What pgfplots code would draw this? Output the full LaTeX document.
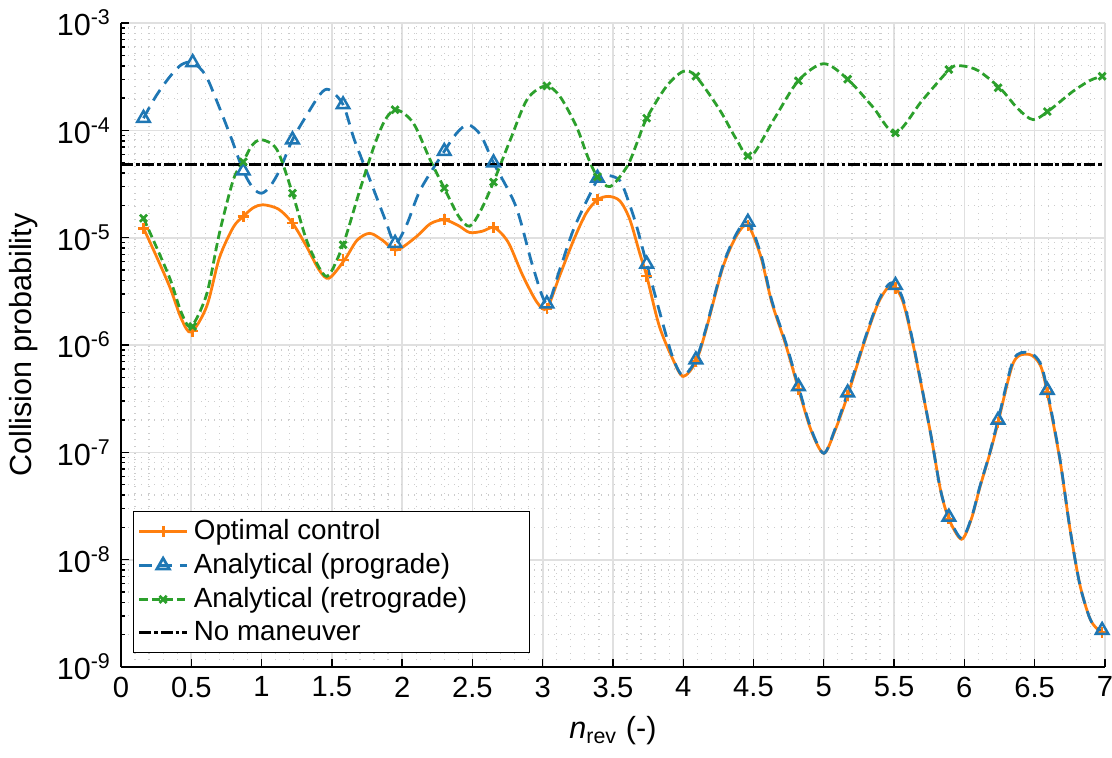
\documentclass[border=0pt]{standalone}
\usepackage{fontspec}
\setmainfont{Liberation Sans}
\usepackage{pgfplots}
\usepackage{pgfplotstable}
\pgfplotsset{compat=1.18}

\definecolor{cOpt}{HTML}{FF7F0E}
\definecolor{cPro}{HTML}{1F77B4}
\definecolor{cRet}{HTML}{2CA02C}

% Optimal control solution (full curve)
\pgfplotstableread{
n p
0.16 1.23e-5
0.25 6.8e-6
0.35 3.4e-6
0.43 1.75e-6
0.50 1.32e-6
0.61 2.3e-6
0.70 6.5e-6
0.80 1.26e-5
0.87 1.58e-5
0.94 1.9e-5
1.01 2.03e-5
1.12 1.85e-5
1.22 1.37e-5
1.32 8.3e-6
1.41 5.0e-6
1.48 4.2e-6
1.59 6.2e-6
1.68 9.5e-6
1.77 1.1e-5
1.86 9.5e-6
1.96 7.7e-6
2.10 1.02e-5
2.20 1.35e-5
2.30 1.47e-5
2.40 1.3e-5
2.48 1.12e-5
2.57 1.15e-5
2.65 1.25e-5
2.72 1.05e-5
2.77 8.3e-6
2.86 4.4e-6
2.96 2.5e-6
3.03 2.2e-6
3.12 4.4e-6
3.22 9.5e-6
3.31 1.7e-5
3.39 2.26e-5
3.47 2.43e-5
3.55 2.2e-5
3.62 1.48e-5
3.69 7.2e-6
3.74 4.4e-6
3.83 1.5e-6
3.93 7.2e-7
4.00 5.1e-7
4.09 7.0e-7
4.16 1.35e-6
4.28 5.2e-6
4.38 1.05e-5
4.46 1.3e-5
4.55 6.8e-6
4.63 2.5e-6
4.73 1.0e-6
4.82 3.9e-7
4.91 1.6e-7
5.00 9.8e-8
5.08 1.6e-7
5.17 3.4e-7
5.29 1.08e-6
5.39 2.5e-6
5.48 3.6e-6
5.56 2.6e-6
5.64 9.5e-7
5.76 1.5e-7
5.83 4.5e-8
5.89 2.4e-8
5.98 1.55e-8
6.05 2.4e-8
6.11 4.7e-8
6.18 9.6e-8
6.24 1.9e-7
6.35 6.9e-7
6.46 8.2e-7
6.54 6.5e-7
6.59 3.6e-7
6.68 8.5e-8
6.75 2.0e-8
6.82 6.0e-9
6.89 2.9e-9
6.94 2.3e-9
6.98 2.1e-9
}\optcurve

% Analytical, prograde manoeuvre (full curve)
\pgfplotstableread{
n p
0.16 1.30e-4
0.25 2.1e-4
0.35 3.2e-4
0.43 4.1e-4
0.51 4.3e-4
0.60 3.3e-4
0.68 1.9e-4
0.78 8.8e-5
0.87 4.2e-5
0.94 2.9e-5
1.00 2.6e-5
1.06 3.0e-5
1.13 4.3e-5
1.22 8.2e-5
1.33 1.45e-4
1.42 2.2e-4
1.48 2.4e-4
1.58 1.74e-4
1.66 8.2e-5
1.77 3.5e-5
1.88 1.47e-5
1.95 8.9e-6
2.03 1.3e-5
2.13 2.8e-5
2.30 6.4e-5
2.39 9.5e-5
2.47 1.13e-4
2.56 9.0e-5
2.65 5.0e-5
2.81 1.95e-5
2.93 5.4e-6
3.03 2.43e-6
3.12 5.0e-6
3.22 1.2e-5
3.34 2.6e-5
3.40 3.6e-5
3.47 3.8e-5
3.55 3.4e-5
3.61 2.2e-5
3.67 1.26e-5
3.74 5.7e-6
3.86 1.5e-6
3.93 7.4e-7
4.00 5.2e-7
4.09 7.3e-7
4.16 1.4e-6
4.28 5.4e-6
4.38 1.1e-5
4.46 1.4e-5
4.55 7.2e-6
4.63 2.6e-6
4.73 1.05e-6
4.82 4.1e-7
4.91 1.65e-7
5.00 9.8e-8
5.08 1.65e-7
5.17 3.6e-7
5.29 1.12e-6
5.39 2.6e-6
5.48 3.8e-6
5.56 2.75e-6
5.64 9.8e-7
5.76 1.5e-7
5.83 4.5e-8
5.89 2.5e-8
5.98 1.58e-8
6.05 2.45e-8
6.11 4.8e-8
6.18 9.8e-8
6.24 2.0e-7
6.35 7.3e-7
6.46 8.5e-7
6.54 6.8e-7
6.59 3.8e-7
6.68 8.7e-8
6.75 2.0e-8
6.82 6.0e-9
6.89 2.9e-9
6.94 2.3e-9
6.98 2.2e-9
}\procurve

% Analytical, retrograde manoeuvre (full curve)
\pgfplotstableread{
n p
0.16 1.52e-5
0.25 8.3e-6
0.35 4.1e-6
0.43 2.0e-6
0.50 1.49e-6
0.61 3.0e-6
0.70 1.1e-5
0.80 3.5e-5
0.87 5.1e-5
0.93 7.2e-5
1.00 8.2e-5
1.11 6.6e-5
1.22 2.6e-5
1.32 9.5e-6
1.42 5.0e-6
1.48 4.5e-6
1.58 8.6e-6
1.70 2.8e-5
1.80 7.1e-5
1.88 1.26e-4
1.96 1.56e-4
2.08 1.17e-4
2.20 5.3e-5
2.30 2.9e-5
2.40 1.6e-5
2.48 1.28e-5
2.56 1.8e-5
2.65 3.3e-5
2.77 8.2e-5
2.89 1.95e-4
3.02 2.6e-4
3.12 2.1e-4
3.24 1.09e-4
3.32 5.7e-5
3.39 3.7e-5
3.48 3.0e-5
3.60 4.6e-5
3.67 7.6e-5
3.74 1.30e-4
3.88 2.57e-4
4.00 3.55e-4
4.09 3.2e-4
4.26 1.55e-4
4.38 8.2e-5
4.48 5.7e-5
4.65 1.3e-4
4.82 2.92e-4
5.00 4.19e-4
5.17 3.0e-4
5.35 1.65e-4
5.51 9.5e-5
5.70 1.9e-4
5.90 3.76e-4
5.98 4.0e-4
6.10 3.6e-4
6.26 2.43e-4
6.38 1.6e-4
6.49 1.26e-4
6.61 1.56e-4
6.77 2.3e-4
6.90 2.95e-4
6.98 3.18e-4
}\retcurve

% Marker samples of each series
\pgfplotstableread{
n opt pro ret
0.16 1.23e-5 1.30e-4 1.52e-5
0.51 1.35e-6 4.3e-4 1.49e-6
0.87 1.58e-5 4.2e-5 5.1e-5
1.22 1.37e-5 8.2e-5 2.6e-5
1.58 6.2e-6 1.74e-4 8.6e-6
1.95 7.7e-6 8.9e-6 1.56e-4
2.30 1.47e-5 6.4e-5 2.9e-5
2.65 1.25e-5 5.0e-5 3.3e-5
3.03 2.2e-6 2.43e-6 2.6e-4
3.39 2.26e-5 3.6e-5 3.7e-5
3.74 4.4e-6 5.7e-6 1.30e-4
4.09 7.0e-7 7.3e-7 3.2e-4
4.46 1.3e-5 1.4e-5 5.8e-5
4.82 3.9e-7 4.1e-7 2.9e-4
5.17 3.4e-7 3.6e-7 3.0e-4
5.51 3.4e-6 3.6e-6 9.5e-5
5.89 2.4e-8 2.5e-8 3.7e-4
6.24 1.9e-7 2.0e-7 2.5e-4
6.59 3.6e-7 3.8e-7 1.5e-4
6.98 2.1e-9 2.2e-9 3.2e-4
}\marks

\begin{document}
\begin{tikzpicture}
\useasboundingbox (-43.56pt,-32.4pt) rectangle (356.76pt,240.12pt);
\begin{axis}[
  at={(0,0)}, anchor=south west,
  scale only axis, width=354.2pt, height=231.8pt,
  xmin=0, xmax=7, ymin=1e-9, ymax=1e-3,
  ymode=log, log basis y=10,
  xtick={0,0.5,...,7},
  minor x tick num=4,
  ytick={1e-9,1e-8,1e-7,1e-6,1e-5,1e-4,1e-3},
  minor ytick={2e-9,3e-9,4e-9,5e-9,6e-9,7e-9,8e-9,9e-9,
               2e-8,3e-8,4e-8,5e-8,6e-8,7e-8,8e-8,9e-8,
               2e-7,3e-7,4e-7,5e-7,6e-7,7e-7,8e-7,9e-7,
               2e-6,3e-6,4e-6,5e-6,6e-6,7e-6,8e-6,9e-6,
               2e-5,3e-5,4e-5,5e-5,6e-5,7e-5,8e-5,9e-5,
               2e-4,3e-4,4e-4,5e-4,6e-4,7e-4,8e-4,9e-4},
  yticklabels={10\textsuperscript{-9},10\textsuperscript{-8},10\textsuperscript{-7},10\textsuperscript{-6},10\textsuperscript{-5},10\textsuperscript{-4},10\textsuperscript{-3}},
  /pgf/number format/assume math mode=true,
  grid=both,
  major grid style={draw=black!12, line width=0.6pt},
  minor grid style={draw=black!20, dotted, line width=0.45pt},
  axis x line*=bottom, axis y line*=left,
  axis line style={black, line width=0.6pt},
  tick align=inside,
  major tick length=3pt, minor tick length=1.6pt,
  tick style={black, line width=0.5pt},
  minor x tick style={draw=none},
  tick label style={font=\fontsize{10.5}{12}\selectfont},
  yticklabel style={font=\fontsize{11}{13}\selectfont},
  label style={font=\fontsize{11}{13}\selectfont},
  xlabel={\textit{n}\textsubscript{rev} (-)},
  ylabel={Collision probability},
  legend style={at={(0.0122,0.0217)}, anchor=south west, draw=black, line width=0.5pt,
    font=\fontsize{10}{12}\selectfont, inner xsep=1.5pt, inner ysep=0.8pt, row sep=-0.5pt},
  legend cell align=left,
]
\addlegendimage{cOpt, line width=1pt, mark=+, mark size=2pt}
\addlegendentry{Optimal control}
\addlegendimage{cPro, line width=1pt, dash pattern=on 4.5pt off 2.8pt, mark=triangle, mark size=2.6pt, mark options={solid}}
\addlegendentry{Analytical (prograde)}
\addlegendimage{cRet, line width=1pt, dash pattern=on 3pt off 1.5pt, mark=x, mark size=1.8pt, mark options={solid}}
\addlegendentry{Analytical (retrograde)\rule{19pt}{0pt}}
\addlegendimage{black, line width=1.1pt, dash pattern=on 4.3pt off 1pt on 1.4pt off 1pt}
\addlegendentry{No maneuver}

\addplot[cOpt, line width=1pt, smooth, forget plot] table[x=n, y=p] {\optcurve};
\addplot[cOpt, only marks, mark=+, mark size=2pt, line width=1pt, forget plot] table[x=n, y=opt] {\marks};

\addplot[cPro, line width=1pt, smooth, dash pattern=on 4.5pt off 2.8pt, forget plot] table[x=n, y=p] {\procurve};
\addplot[cPro, only marks, mark=triangle, mark size=2.6pt, line width=0.9pt, forget plot] table[x=n, y=pro] {\marks};

\addplot[cRet, line width=1pt, smooth, dash pattern=on 3pt off 1.5pt, forget plot] table[x=n, y=p] {\retcurve};
\addplot[cRet, only marks, mark=x, mark size=1.8pt, line width=1pt, forget plot] table[x=n, y=ret] {\marks};

\addplot[black, line width=1.1pt, dash pattern=on 4.3pt off 1pt on 1.4pt off 1pt, forget plot] coordinates {(0,4.8e-5) (7,4.8e-5)};
\end{axis}
\end{tikzpicture}
\end{document}
